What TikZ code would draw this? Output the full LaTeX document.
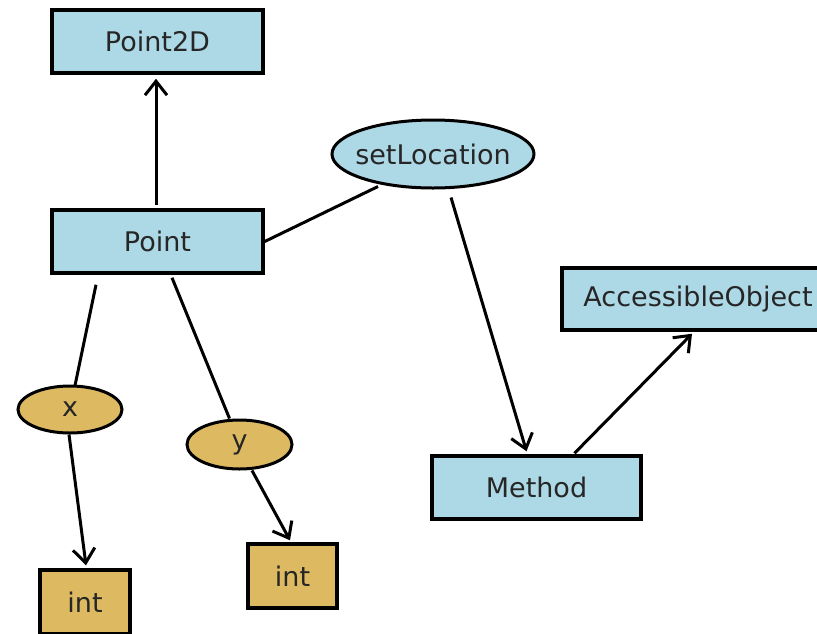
\documentclass[tikz,border=0pt]{standalone}
\usepackage{fontspec}
\setmainfont{DejaVu Sans}
\usetikzlibrary{shapes.geometric,arrows.meta,calc}
\definecolor{boxblue}{HTML}{ADD8E6}
\definecolor{boxgold}{HTML}{DDBA62}
\definecolor{txt}{HTML}{262626}
\begin{document}
\begin{tikzpicture}[x=1pt,y=-1pt,
  lbl/.style={font=\fontsize{27}{32}\selectfont, text=txt},
  bluebox/.style={lbl, rectangle, draw=black, line width=3.5pt, fill=boxblue, inner sep=0pt},
  goldbox/.style={lbl, rectangle, draw=black, line width=3.5pt, fill=boxgold, inner sep=0pt},
  blueell/.style={lbl, ellipse, draw=black, line width=3pt, fill=boxblue, inner sep=0pt},
  goldell/.style={lbl, ellipse, draw=black, line width=3pt, fill=boxgold, inner sep=0pt},
  conn/.style={draw=black, line width=3pt},
  arr/.style={conn, -{Straight Barb[length=14pt,width=22pt,line width=3pt]}}]
\useasboundingbox (0,0) rectangle (817,633);
\node[bluebox, minimum width=211, minimum height=63] (p2d) at (157.5,41.5) {Point2D};
\node[bluebox, minimum width=211, minimum height=63] (point) at (157.5,241.5) {Point};
\node[blueell, inner xsep=-7pt, minimum width=202, minimum height=68] (setloc) at (433,154) {setLocation};
\node[bluebox, minimum width=272, minimum height=62] (acc) at (698,299) {AccessibleObject};
\node[bluebox, minimum width=209, minimum height=63] (method) at (536.5,487.5) {Method};
\node[goldell, minimum width=104, minimum height=47] (xn) at (70,409.5) {x};
\node[goldell, minimum width=105, minimum height=49] (yn) at (239.5,444.5) {y};
\node[goldbox, minimum width=90, minimum height=64] (int1) at (85,602) {int};
\node[goldbox, minimum width=89, minimum height=64] (int2) at (292.5,576) {int};
\draw[arr] ($(point.north)+(-1.5,-3)$) -- ($(p2d.south)+(-1.5,4)$);
\draw[conn] (point.east) -- ($(setloc.south)+(-55,-3)$);
\draw[arr] ($(setloc.south)+(18,8)$) -- ($(method.north)+(-10,-3)$);
\draw[arr] ($(method.north)+(38,-1)$) -- ($(acc.south)+(-6,2)$);
\draw[conn] ($(point.south)+(-61.5,10)$) -- ($(xn.north)+(5,1)$);
\draw[conn] ($(point.south)+(14.5,3)$) -- ($(yn.north)+(-10,0)$);
\draw[arr] ($(xn.south)+(-1,0)$) -- ($(int1.north)+(1,-3)$);
\draw[arr] ($(yn.south)+(12.5,0)$) -- ($(int2.north)+(-2.5,-2)$);
\end{tikzpicture}
\end{document}
